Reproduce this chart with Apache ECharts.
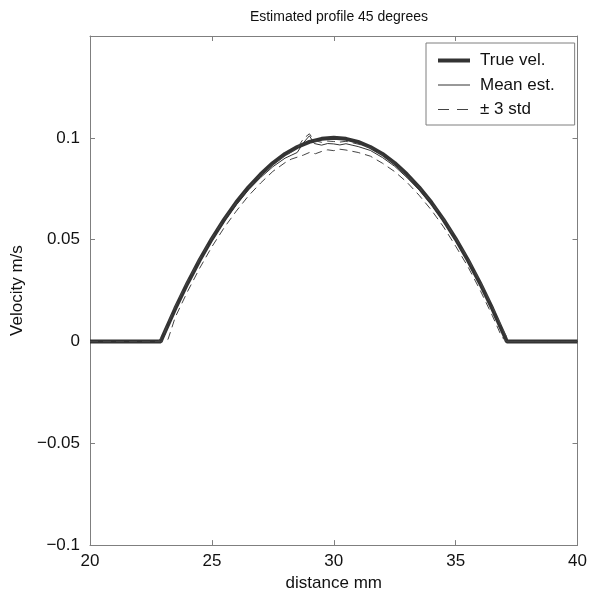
<!DOCTYPE html>
<html>
<head>
<meta charset="utf-8">
<script src="https://cdn.jsdelivr.net/npm/echarts@6/dist/echarts.min.js"></script>
<style>
html,body{margin:0;padding:0;background:#fff;}
#chart{width:590px;height:597px;}
</style>
</head>
<body>
<div id="chart"></div>
<script>
// ---- data ----
const xTicks = [20, 25, 30, 35, 40];
const yTicks = [-0.1, -0.05, 0, 0.05, 0.1];

const trueX = [20, 22.9, 23, 23.5, 24, 24.5, 25, 25.5, 26, 26.5, 27, 27.5, 28, 28.5, 29, 29.5, 30,
               30.5, 31, 31.5, 32, 32.5, 33, 33.5, 34, 34.5, 35, 35.5, 36, 36.5, 37, 37.1, 40];
const trueV = [0, 0, 0.0028, 0.0162, 0.0286, 0.0400, 0.0504, 0.0598, 0.0683, 0.0757, 0.0821, 0.0876, 0.0921, 0.0955, 0.0980, 0.0995, 0.1000,
               0.0995, 0.0980, 0.0955, 0.0921, 0.0876, 0.0821, 0.0757, 0.0683, 0.0598, 0.0504, 0.0400, 0.0286, 0.0162, 0.0028, 0, 0];

const meanX = [20, 22.85, 23, 23.5, 24, 24.5, 25, 25.5, 26, 26.5, 27, 27.5, 28, 28.25, 28.5, 28.75, 29, 29.2, 29.5, 29.75, 30,
               30.25, 30.5, 30.75, 31, 31.5, 32, 32.5, 33, 33.5, 34, 34.5, 35, 35.5, 36, 36.5, 37, 37.15, 40];
const meanV = [0, 0, 0.0015, 0.0158, 0.0280, 0.0393, 0.0496, 0.0588, 0.0671, 0.0744, 0.0805, 0.0858, 0.0900, 0.0914, 0.0928, 0.0975, 0.1010,
               0.0972, 0.0964, 0.0972, 0.0970, 0.0965, 0.0971, 0.0964, 0.0957, 0.0938, 0.0903, 0.0860, 0.0805, 0.0744, 0.0673, 0.0589, 0.0495, 0.0396, 0.0281, 0.0157, 0.0025, 0, 0];

const upperX = [20, 22.8, 23, 23.5, 24, 24.5, 25, 25.5, 26, 26.5, 27, 27.5, 28, 28.25, 28.5, 28.75, 29, 29.2, 29.5, 29.75, 30,
                30.25, 30.5, 30.75, 31, 31.5, 32, 32.5, 33, 33.5, 34, 34.5, 35, 35.5, 36, 36.5, 37, 37.2, 40];
const upperV = [0, 0, 0.0030, 0.0172, 0.0294, 0.0406, 0.0508, 0.0599, 0.0682, 0.0755, 0.0817, 0.0869, 0.0912, 0.0930, 0.0948, 0.0995, 0.1020,
                0.0986, 0.0978, 0.0984, 0.0982, 0.0979, 0.0983, 0.0976, 0.0969, 0.0951, 0.0916, 0.0872, 0.0817, 0.0755, 0.0684, 0.0601, 0.0507, 0.0408, 0.0294, 0.0172, 0.0042, 0, 0];

const lowerX = [20, 22.9, 23.2, 23.5, 24, 24.5, 25, 25.5, 26, 26.5, 27, 27.5, 28, 28.25, 28.5, 28.75, 29, 29.25, 29.5, 29.75, 30,
                30.25, 30.5, 30.75, 31, 31.5, 32, 32.5, 33, 33.5, 34, 34.5, 35, 35.5, 36, 36.5, 36.9, 37.1, 40];
const lowerV = [0, 0, 0.0010, 0.0120, 0.0245, 0.0360, 0.0465, 0.0558, 0.0640, 0.0715, 0.0778, 0.0835, 0.0878, 0.0895, 0.0905, 0.0915, 0.0928,
                0.0922, 0.0933, 0.0941, 0.0937, 0.0944, 0.0940, 0.0934, 0.0928, 0.0910, 0.0875, 0.0834, 0.0782, 0.0718, 0.0646, 0.0563, 0.0468, 0.0368, 0.0253, 0.0128, 0.0020, 0, 0];

const seriesNames = ['True vel.', 'Mean est.', '\u00B1 3 std'];
const titleText = 'Estimated profile 45 degrees';
const xName = 'distance mm';
const yName = 'Velocity m/s';

// ---- build ----
function pairs(xs, ys) { return xs.map((x, i) => [x, ys[i]]); }
function fmtY(v) {
  if (Math.abs(v - 0.15) < 1e-9) return '';
  const r = Math.round(v * 1000) / 1000;
  if (r === 0) return '0';
  return (r < 0 ? '\u2212' : '') + String(Math.abs(r));
}
const FONT = 'Liberation Sans, Arial, Helvetica, sans-serif';
const axisColor = '#7f7f7f';
const textColor = '#111';
const DASH = [8, 5];

const chart = echarts.init(document.getElementById('chart'), null, {renderer: 'canvas'});
chart.setOption({
  animation: false,
  backgroundColor: '#fff',
  title: {
    text: titleText,
    left: 334, top: 5, textAlign: 'center',
    textStyle: {fontFamily: FONT, fontSize: 14, fontWeight: 'normal', color: textColor}
  },
  legend: {
    data: [
      {name: seriesNames[0], lineStyle: {width: 4, color: '#333'}},
      {name: seriesNames[1], lineStyle: {width: 1, color: '#333'}},
      {name: seriesNames[2], lineStyle: {width: 1, color: '#444', type: [11, 8]}}
    ],
    orient: 'vertical',
    left: 426, top: 43,
    padding: [9, 20, 7, 10],
    itemWidth: 32, itemHeight: 14, itemGap: 7.5,
    itemStyle: {opacity: 0},
    borderColor: '#7f7f7f', borderWidth: 1, borderRadius: 0,
    backgroundColor: '#fff',
    textStyle: {fontFamily: FONT, fontSize: 17, color: textColor, padding: [0, 0, 0, 5]},
    selectedMode: false
  },
  grid: {left: 90, right: 12, top: 36, bottom: 47, containLabel: false},
  xAxis: [{
    type: 'value', min: 20, max: 40, interval: 5,
    name: xName, nameLocation: 'middle', nameGap: 29,
    nameTextStyle: {fontFamily: FONT, fontSize: 17, color: textColor},
    axisLine: {show: true, onZero: false, lineStyle: {color: axisColor, width: 1}},
    axisTick: {show: true, inside: true, length: 5, lineStyle: {color: axisColor}},
    axisLabel: {fontFamily: FONT, fontSize: 17, color: textColor, margin: 8},
    splitLine: {show: false}
  }, {
    type: 'value', min: 20, max: 40, interval: 5, position: 'top',
    axisLine: {show: true, onZero: false, lineStyle: {color: axisColor, width: 1}},
    axisTick: {show: true, inside: true, length: 5, lineStyle: {color: axisColor}},
    axisLabel: {show: false}, splitLine: {show: false}
  }],
  yAxis: [{
    type: 'value', min: -0.1, max: 0.15, interval: 0.05,
    name: yName, nameLocation: 'middle', nameGap: 60, nameRotate: 90,
    nameTextStyle: {fontFamily: FONT, fontSize: 17, color: textColor},
    axisLine: {show: true, onZero: false, lineStyle: {color: axisColor, width: 1}},
    axisTick: {show: true, inside: true, length: 5, lineStyle: {color: axisColor}},
    axisLabel: {fontFamily: FONT, fontSize: 17, color: textColor, margin: 10, formatter: fmtY},
    splitLine: {show: false}
  }, {
    type: 'value', min: -0.1, max: 0.15, interval: 0.05, position: 'right',
    axisLine: {show: true, onZero: false, lineStyle: {color: axisColor, width: 1}},
    axisTick: {show: true, inside: true, length: 5, lineStyle: {color: axisColor}},
    axisLabel: {show: false}, splitLine: {show: false}
  }],
  series: [
    {name: seriesNames[0], type: 'line', data: pairs(trueX, trueV), symbol: 'none', xAxisIndex: 0, yAxisIndex: 0,
     lineStyle: {color: '#333', width: 4}, itemStyle: {color: '#333'}, z: 2},
    {name: seriesNames[1], type: 'line', data: pairs(meanX, meanV), symbol: 'none', xAxisIndex: 0, yAxisIndex: 0,
     lineStyle: {color: '#333', width: 1}, itemStyle: {color: '#333'}, z: 3},
    {name: seriesNames[2], type: 'line', data: pairs(upperX, upperV), symbol: 'none', xAxisIndex: 0, yAxisIndex: 0,
     lineStyle: {color: '#444', width: 1, type: DASH}, itemStyle: {color: '#444'}, z: 3},
    {name: seriesNames[2], type: 'line', data: pairs(lowerX, lowerV), symbol: 'none', xAxisIndex: 0, yAxisIndex: 0,
     lineStyle: {color: '#444', width: 1, type: DASH}, itemStyle: {color: '#444'}, z: 3}
  ]
});
</script>
</body>
</html>
